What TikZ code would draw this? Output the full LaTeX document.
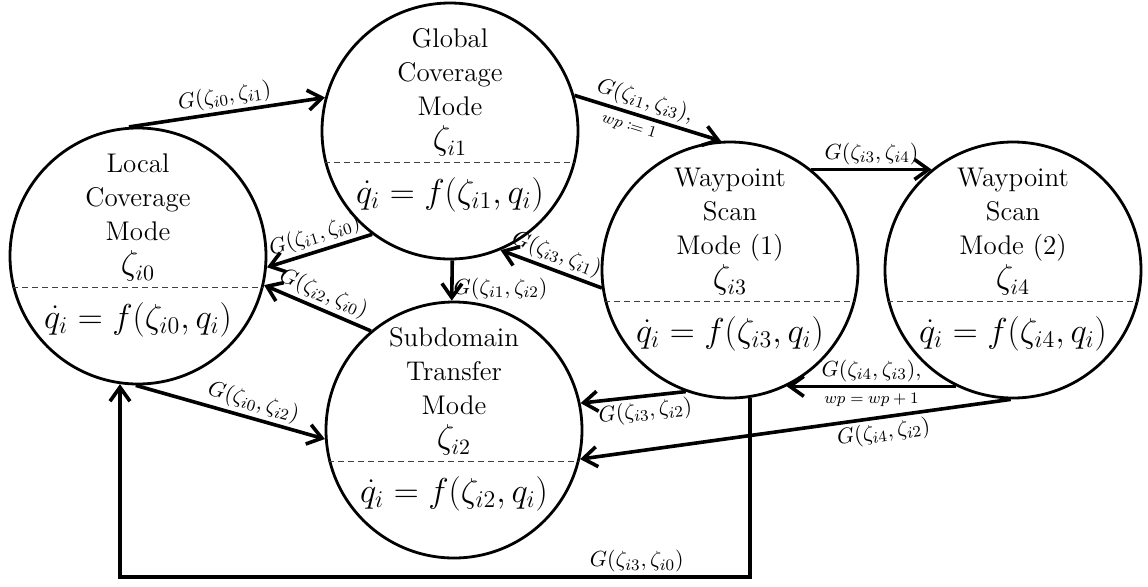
\documentclass[tikz,border=0pt]{standalone}
\usepackage{amsmath}
\usepackage{mathtools}
\usepackage{tikz}
\usetikzlibrary{arrows.meta,calc}
\tikzset{
  mode/.style={draw=black, circle, line width=1.4pt, minimum size=128pt, inner sep=0pt},
  modetitle/.style={align=center, anchor=south, inner sep=1pt, font=\fontsize{13.5}{17}\selectfont},
  modeeq/.style={inner sep=1pt, font=\fontsize{16.5}{18}\selectfont},
  divider/.style={draw=black!75, line width=0.5pt, dash pattern=on 3pt off 2pt},
  arrow/.style={-{Straight Barb[length=7pt,width=10pt]}, line width=1.8pt},
  guard/.style={font=\fontsize{11}{12}\selectfont, inner sep=1.5pt},
  wpnote/.style={font=\fontsize{8}{9}\selectfont, inner sep=1pt}
}
\newcommand{\zline}[1]{{\fontsize{16}{17}\selectfont$\zeta_{#1}$}}

\begin{document}
\begin{tikzpicture}[x=0.5pt, y=-0.5pt]
\useasboundingbox (0,0) rectangle (1148,586);
\node[mode] (loc) at (138,256) {};
\node[mode] (glob) at (450,131) {};
\node[mode] (sub) at (454,430) {};
\node[mode] (wpa) at (730,270) {};
\node[mode] (wpb) at (1013,270) {};

\node[modetitle] (loct) at ($(loc)+(0,28)$) {Local\\Coverage\\Mode\\\zline{i0}};
\node[modetitle] (globt) at ($(glob)+(0,28)$) {Global\\Coverage\\Mode\\\zline{i1}};
\node[modetitle] (subt) at ($(sub)+(0,28)$) {Subdomain\\Transfer\\Mode\\\zline{i2}};
\node[modetitle] (wpat) at ($(wpa)+(0,28)$) {Waypoint\\Scan\\Mode (1)\\\zline{i3}};
\node[modetitle] (wpbt) at ($(wpb)+(0,28)$) {Waypoint\\Scan\\Mode (2)\\\zline{i4}};

\draw[divider] (loc.194) -- (loc.-14);
\draw[divider] (glob.194) -- (glob.-14);
\draw[divider] (sub.194) -- (sub.-14);
\draw[divider] (wpa.194) -- (wpa.-14);
\draw[divider] (wpb.194) -- (wpb.-14);

\node[modeeq] (loce) at ($(loc)+(0,64)$) {$\dot{q}_i = f(\zeta_{i0}, q_i)$};
\node[modeeq] (globe) at ($(glob)+(0,64)$) {$\dot{q}_i = f(\zeta_{i1}, q_i)$};
\node[modeeq] (sube) at ($(sub)+(0,64)$) {$\dot{q}_i = f(\zeta_{i2}, q_i)$};
\node[modeeq] (wpae) at ($(wpa)+(0,64)$) {$\dot{q}_i = f(\zeta_{i3}, q_i)$};
\node[modeeq] (wpbe) at ($(wpb)+(0,64)$) {$\dot{q}_i = f(\zeta_{i4}, q_i)$};

\draw[arrow] (loc.94) -- node[guard, sloped, above] {$G(\zeta_{i0},\zeta_{i1})$} (glob.165);
\draw[arrow] (glob.16) -- node[guard, sloped, above, pos=0.45] {$G(\zeta_{i1},\zeta_{i3}),$} node[wpnote, sloped, below=1.5pt, pos=0.4] {$wp \coloneqq 1$} (wpa.94);
\draw[arrow] (wpa.51) -- node[guard, sloped, above] {$G(\zeta_{i3},\zeta_{i4})$} (wpb.129);
\draw[arrow] (wpb.244) -- node[guard, sloped, above] {$G(\zeta_{i4},\zeta_{i3}),$} node[wpnote, sloped, below=1.5pt] {$wp = wp + 1$} (wpa.-64);
\draw[arrow] (wpa.188) -- node[guard, sloped, above] {$G(\zeta_{i3},\zeta_{i1})$} (glob.-67);
\draw[arrow] (glob.233) -- node[guard, sloped, above] {$G(\zeta_{i1},\zeta_{i0})$} (loc.-5);
\draw[arrow] (sub.130) -- node[guard, sloped, above] {$G(\zeta_{i2},\zeta_{i0})$} (loc.-13);
\draw[arrow] (glob.-89) -- node[guard, anchor=west, pos=0.7, inner sep=0pt] {$G(\zeta_{i1},\zeta_{i2})$} (sub.91);
\draw[arrow] (loc.-91) -- node[guard, sloped, above, pos=0.6] {$G(\zeta_{i0},\zeta_{i2})$} (sub.184);
\draw[arrow] (wpa.250) -- node[guard, sloped, below, pos=0.4] {$G(\zeta_{i3},\zeta_{i2})$} (sub.12);
\draw[arrow] (wpb.-91) -- node[guard, sloped, below, pos=0.3] {$G(\zeta_{i4},\zeta_{i2})$} (sub.-13);
\coordinate (rail) at (0,577);
\draw[arrow] (wpa.-81) -- (wpa.-81 |- rail) -| node[guard, above, pos=0.09] {$G(\zeta_{i3},\zeta_{i0})$} (loc.-98);
\end{tikzpicture}
\end{document}
